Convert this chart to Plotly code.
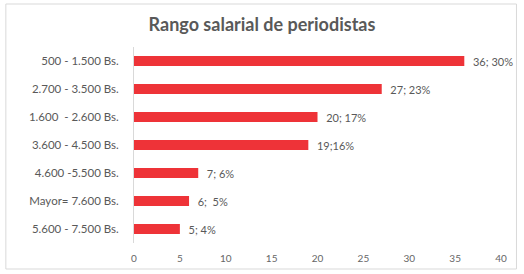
import plotly.graph_objects as go

categories = ["500 - 1.500 Bs.", "2.700 - 3.500 Bs.", "1.600  - 2.600 Bs.", "3.600 - 4.500 Bs.",
              "4.600 -5.500 Bs.", "Mayor= 7.600 Bs.", "5.600 - 7.500 Bs."]
values = [36, 27, 20, 19, 7, 6, 5]
labels = ["36; 30%", "27; 23%", "20; 17%", "19;16%", "7; 6%", "6;  5%", "5; 4%"]
x_ticks = [0, 5, 10, 15, 20, 25, 30, 35, 40]

W, H = 524, 274
L, R, T, B = 133.5, 22.5, 47, 31
pw, ph = W - L - R, H - T - B

fig = go.Figure(go.Bar(
    y=categories, x=values, orientation="h",
    marker=dict(color="#EE3338", line=dict(width=0)),
    text=["  " + t for t in labels], textposition="outside", cliponaxis=False,
    constraintext="none",
    textfont=dict(family="Lato", size=11, color="#595959"),
))

fig.update_layout(
    width=W, height=H,
    margin=dict(l=L, r=R, t=T, b=B, autoexpand=False),
    paper_bgcolor="white", plot_bgcolor="white",
    bargap=0.64,
    showlegend=False,
    title=dict(text="<b>Rango salarial de periodistas</b>", x=0.5, xanchor="center",
               y=1 - 25 / H, yanchor="middle",
               font=dict(family="Lato", size=18, color="#595959")),
    xaxis=dict(range=[0, 40], tickvals=x_ticks, showgrid=False, zeroline=False,
               showline=False, ticks="", ticklabelstandoff=8, automargin=False,
               tickfont=dict(family="Lato", size=10, color="#666666")),
    yaxis=dict(autorange="reversed", showgrid=False, zeroline=False,
               showline=True, linecolor="#D9D9D9", linewidth=1, ticks="",
               ticklabelstandoff=12, automargin=False,
               tickfont=dict(family="Lato", size=11.5, color="#595959")),
    shapes=[dict(type="rect", xref="paper", yref="paper",
                 x0=(5 - L) / pw, x1=(517 - L) / pw,
                 y0=(H - B - 269) / ph, y1=(H - B - 4) / ph,
                 line=dict(color="#D9D9D9", width=1), fillcolor="rgba(0,0,0,0)", layer="above")],
)

fig.write_html("out.html", config={"displayModeBar": False},
               post_script="document.body.style.margin='0';document.body.style.padding='0';")
